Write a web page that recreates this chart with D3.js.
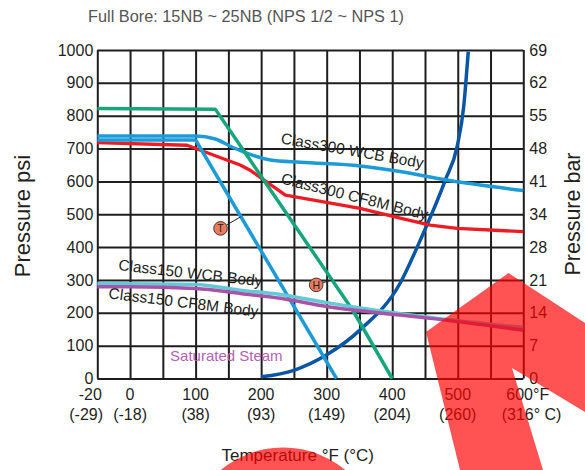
<!DOCTYPE html>
<html><head><meta charset="utf-8">
<script src="https://cdn.jsdelivr.net/npm/d3@7"></script>
<style>
html,body{margin:0;padding:0;background:#fff;}
svg{display:block;font-family:"Liberation Sans",Arial,Helvetica,sans-serif;}
</style></head><body>
<svg id="chart" width="585" height="470"></svg>
<script>
// ---------- data ----------
const titleText = "Full Bore: 15NB ~ 25NB (NPS 1/2 ~ NPS 1)";
const tempTicksF = [-20, 0, 100, 200, 300, 400, 500, 600];
const tempLabelsF = ["-20", "0", "100", "200", "300", "400", "500", "600°F"];
const tempLabelsC = ["(-29)", "(-18)", "(38)", "(93)", "(149)", "(204)", "(260)", "(316° C)"];
const gridF = [-20, 0, 50, 100, 150, 200, 250, 300, 350, 400, 450, 500, 550, 600];
const psiTicks = [0, 100, 200, 300, 400, 500, 600, 700, 800, 900, 1000];
const psiLabels = ["0", "100", "200", "300", "400", "500", "600", "700", "800", "900", "1000"];
const barTicks = ["0", "7", "14", "21", "28", "34", "41", "48", "55", "62", "69"];

// [temperature °F, pressure psi]
const steam       = [[200,5],[250,25],[300,72],[351,148],[412,290],[443,422],[481,604],[499,706],[509,827],[516,995]];
const class300WCB = [[-20,738],[100,738],[130,729],[153,707],[173,690],[214,665],[260,658],[351,647],[412,630],[483,604],[600,572]];
const class300CF8M= [[-20,718],[87,710],[168,650],[184,633],[237,558],[351,518],[412,488],[458,467],[499,457],[600,447]];
const limitGreen  = [[-20,822],[130,820],[340,207],[400,0]];
const limitBlue   = [[-20,726],[100,726],[315,0]];
const class150WCB = [[-20,289],[100,286],[168,269],[229,256],[300,231],[458,186],[600,155]];
const class150CF8M= [[-20,279],[0,279],[100,274],[168,259],[229,244],[300,219],[412,193],[458,183],[600,147]];

const seatT = {F: 138, psi: 457, toF: 168.6, toPsi: 492, txt: "T"};
const seatH = {F: 284, psi: 285, toF: 308, toPsi: 300, txt: "H"};

// ---------- layout ----------
const x0 = 97.3, x1 = 523.3, yT = 50, yB = 378.5;
const unit = (x1 - x0) / 13;
const x = d3.scaleLinear().domain([-20, 0, 600]).range([x0, x0 + unit, x1]);
const y = d3.scaleLinear().domain([0, 1000]).range([yB, yT]);

const svg = d3.select("#chart");
const txtCol = "#231f20";

// title
svg.append("text").attr("x", 246).attr("y", 21.5).attr("text-anchor", "middle")
  .attr("font-size", 16.3).attr("fill", "#555").text(titleText);

// grid via axes
const gx = svg.append("g").attr("transform", `translate(0,${yB})`)
  .call(d3.axisBottom(x).tickValues(gridF).tickSize(-(yB - yT)).tickFormat(""));
const gy = svg.append("g").attr("transform", `translate(${x0},0)`)
  .call(d3.axisLeft(y).tickValues(psiTicks).tickSize(-(x1 - x0)).tickFormat(""));
[gx, gy].forEach(g => {
  g.select(".domain").remove();
  g.selectAll(".tick line").attr("stroke", "#1e1e1e").attr("stroke-width", 2);
});

// left psi labels
const gl = svg.append("g").attr("transform", `translate(${x0},0)`)
  .call(d3.axisLeft(y).tickValues(psiTicks).tickSize(0).tickPadding(4).tickFormat((d, i) => psiLabels[i]));
gl.select(".domain").remove();
gl.selectAll("text").attr("font-size", 16).attr("fill", txtCol).attr("font-family", null);

// right bar labels
const gr = svg.append("g").attr("transform", `translate(${x1},0)`)
  .call(d3.axisRight(y).tickValues(psiTicks).tickSize(0).tickPadding(6).tickFormat((d, i) => barTicks[i]));
gr.select(".domain").remove();
gr.selectAll("text").attr("font-size", 16).attr("fill", txtCol).attr("font-family", null);

// bottom labels
const last = tempTicksF.length - 1;
tempTicksF.forEach((t, i) => {
  let anchor = "middle", xp = x(t), xc = x(t);
  if (i === 0) { anchor = "end"; xp = x(t) + 4.5; xc = x(t) + 5.7; }
  if (i === last) { anchor = "start"; xp = x(t) - 17; xc = x(t) - 21.6; }
  svg.append("text").attr("x", xp).attr("y", 400).attr("text-anchor", anchor)
    .attr("font-size", 16).attr("fill", txtCol).text(tempLabelsF[i]);
  svg.append("text").attr("x", xc).attr("y", 419.5).attr("text-anchor", anchor)
    .attr("font-size", 16).attr("fill", txtCol).text(tempLabelsC[i]);
});

// axis titles
svg.append("text").attr("x", 221.5).attr("y", 461).attr("font-size", 17).attr("fill", txtCol)
  .text("Temperature °F (°C)");
svg.append("text").attr("transform", "translate(30,216) rotate(-90)").attr("text-anchor", "middle")
  .attr("font-size", 22).attr("fill", txtCol).text("Pressure psi");
svg.append("text").attr("transform", "translate(580,214) rotate(-90)").attr("text-anchor", "middle")
  .attr("font-size", 21.5).attr("fill", txtCol).text("Pressure bar");

// curves
const lineLin = d3.line().x(d => x(d[0])).y(d => y(d[1]));
const lineSm = d3.line().x(d => x(d[0])).y(d => y(d[1])).curve(d3.curveMonotoneX);
function draw(data, color, gen, w) {
  svg.append("path").datum(data).attr("d", gen).attr("fill", "none")
    .attr("stroke", color).attr("stroke-width", w || 3.5).attr("stroke-linejoin", "round");
}
draw(steam, "#0b56a4", lineSm);
draw(class300WCB, "#1e9bd7", lineSm);
draw(class300CF8M, "#ec1c24", lineLin, 3.3);
draw(limitGreen, "#17a57e", lineLin);
draw(limitBlue, "#1e9bd7", lineLin);
draw(class150WCB, "#62c9d6", lineSm);
draw(class150CF8M, "#a653a8", lineSm);

// curve labels
const labels = [
  {t: "Class300 WCB Body", F: 229, psi: 716, a: 10},
  {t: "Class300 CF8M Body", F: 229, psi: 594, a: 14},
  {t: "Class150 WCB Body", F: -7.4, psi: 330, a: 6.5},
  {t: "Class150 CF8M Body", F: -13.4, psi: 244, a: 7}
];
labels.forEach(l => {
  svg.append("text").attr("transform", `translate(${x(l.F)},${y(l.psi)}) rotate(${l.a})`)
    .attr("font-size", 15.5).attr("fill", txtCol).text(l.t);
});
svg.append("text").attr("x", x(61)).attr("y", y(54)).attr("font-size", 15)
  .attr("fill", "#b462b4").text("Saturated Steam");

// seat markers
[seatT, seatH].forEach(m => {
  const cx = x(m.F), cy = y(m.psi), tx = x(m.toF), ty = y(m.toPsi);
  const ang = Math.atan2(ty - cy, tx - cx);
  svg.append("line").attr("x1", cx + 7 * Math.cos(ang)).attr("y1", cy + 7 * Math.sin(ang))
    .attr("x2", tx).attr("y2", ty).attr("stroke", "#222").attr("stroke-width", 1);
  svg.append("circle").attr("cx", cx).attr("cy", cy).attr("r", 6.8)
    .attr("fill", "#ef7b5f").attr("stroke", "#3a3a3a").attr("stroke-width", 1);
  svg.append("text").attr("x", cx).attr("y", cy + 3.8).attr("text-anchor", "middle")
    .attr("font-size", 10.5).attr("fill", "#222").text(m.txt);
});

// red overlay marks (watermark shapes in reference)
const ov = svg.append("g").attr("fill", "#ff0000").attr("fill-opacity", 0.68);
ov.append("path").attr("d", "M426,332 L508.5,273 L585,323 L585,412 L512,368 L543,470 L460,470 Z");
ov.append("circle").attr("cx", 283).attr("cy", 545).attr("r", 97.5);
</script>
</body></html>
